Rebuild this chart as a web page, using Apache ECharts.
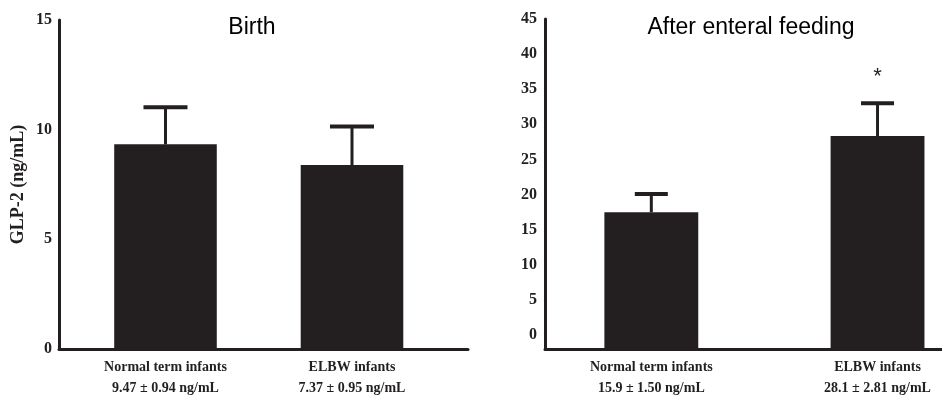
<!DOCTYPE html>
<html><head><meta charset="utf-8">
<script src="https://cdn.jsdelivr.net/npm/echarts@6/dist/echarts.min.js"></script>
<style>html,body{margin:0;padding:0;background:#fff}#c{width:942px;height:397px}</style>
</head><body><div id="c"></div>
<script>
// ---- data ----
const categories = ['Normal term infants', 'ELBW infants'];
const birthMean = [9.33, 8.39];
const birthSD = [1.69, 1.75];
const birthStats = ['9.47 ± 0.94 ng/mL', '7.37 ± 0.95 ng/mL'];
const feedMean = [17.47, 28.34];
const feedSD = [2.61, 4.66];
const feedStats = ['15.9 ± 1.50 ng/mL', '28.1 ± 2.81 ng/mL'];
const feedSig = ['', '*'];
const birthTicks = [0, 5, 10, 15];
const feedTicks = [0, 5, 10, 15, 20, 25, 30, 35, 40, 45];
const panelTitles = ['Birth', 'After enteral feeding'];
const yName = 'GLP-2 (ng/mL)';

const INK = '#231f20';
const SERIF = '"Liberation Serif", "Times New Roman", serif';
const SANS = '"Liberation Sans", Arial, sans-serif';

function rows(mean, sd, sig) {
  return mean.map((m, i) => [i, m, sd[i], sig ? sig[i] : '']);
}

function barRender(base, widthUnits) {
  return function (params, api) {
    const x = api.value(0), v = api.value(1);
    const p0 = api.coord([x - widthUnits / 2, v]);
    const p1 = api.coord([x + widthUnits / 2, base]);
    return { type: 'rect', shape: { x: p0[0], y: p0[1], width: p1[0] - p0[0], height: p1[1] - p0[1] },
             style: { fill: INK } };
  };
}

function errRender(capUnits, sigArr) {
  return function (params, api) {
    const x = api.value(0), v = api.value(1), e = api.value(2);
    const pb = api.coord([x, v]);
    const pt = api.coord([x, v + e]);
    const half = api.size([capUnits, 0])[0] / 2;
    const children = [
      { type: 'line', shape: { x1: pb[0], y1: pb[1], x2: pt[0], y2: pt[1] }, style: { stroke: INK, lineWidth: 3 } },
      { type: 'line', shape: { x1: pt[0] - half, y1: pt[1], x2: pt[0] + half, y2: pt[1] }, style: { stroke: INK, lineWidth: 4 } }
    ];
    const s = sigArr ? sigArr[params.dataIndex] : '';
    if (s) {
      children.push({ type: 'text', x: pt[0], y: pt[1] - 26,
        style: { text: s, fill: INK, font: '22px ' + SANS, align: 'center', verticalAlign: 'middle' } });
    }
    return { type: 'group', children: children };
  };
}

function xAxisCfg(grid, min, max, stats) {
  return {
    type: 'value', gridIndex: grid, min: min, max: max,
    splitLine: { show: false }, axisTick: { show: false },
    axisLine: { show: true, onZero: false, lineStyle: { color: INK, width: 3 } },
    axisLabel: {
      customValues: [0, 1], margin: 8,
      formatter: function (v) {
        const i = Math.round(v);
        return '{n|' + categories[i] + '}\n{s|' + stats[i] + '}';
      },
      rich: {
        n: { fontFamily: SERIF, fontWeight: 'bold', fontSize: 14, lineHeight: 21, color: INK },
        s: { fontFamily: SERIF, fontWeight: 'bold', fontSize: 14, lineHeight: 21, color: INK }
      }
    }
  };
}

function yAxisCfg(grid, min, max, ticks, margin, name) {
  const cfg = {
    type: 'value', gridIndex: grid, min: min, max: max,
    splitLine: { show: false }, axisTick: { show: false },
    axisLine: { show: true, onZero: false, lineStyle: { color: INK, width: 3 } },
    axisLabel: { customValues: ticks, margin: margin, fontFamily: SERIF, fontWeight: 'bold', fontSize: 16, color: INK }
  };
  if (name) {
    cfg.name = name;
    cfg.nameLocation = 'middle';
    cfg.nameGap = 32;
    cfg.nameTextStyle = { fontFamily: SERIF, fontWeight: 'bold', fontSize: 18, color: INK };
  }
  return cfg;
}

const chart = echarts.init(document.getElementById('c'));
chart.setOption({
  animation: false,
  backgroundColor: '#fff',
  title: [
    { text: panelTitles[0], left: 252, top: 16, textAlign: 'center', padding: 0,
      textStyle: { fontFamily: SANS, fontWeight: 'normal', fontSize: 23, color: '#000' } },
    { text: panelTitles[1], left: 751, top: 16, textAlign: 'center', padding: 0,
      textStyle: { fontFamily: SANS, fontWeight: 'normal', fontSize: 23, color: '#000' } }
  ],
  grid: [
    { left: 59, right: 474, top: 20, bottom: 48 },
    { left: 545, right: 0, top: 19, bottom: 48 }
  ],
  xAxis: [
    xAxisCfg(0, -0.571, 1.622, birthStats),
    xAxisCfg(1, -0.47, 1.285, feedStats)
  ],
  yAxis: [
    yAxisCfg(0, 0, 15, birthTicks, 7, yName),
    yAxisCfg(1, -2, 45, feedTicks, 8, null)
  ],
  series: [
    { type: 'custom', xAxisIndex: 0, yAxisIndex: 0, data: rows(birthMean, birthSD),
      encode: { x: 0, y: 1 }, renderItem: barRender(0, 0.55) },
    { type: 'custom', xAxisIndex: 0, yAxisIndex: 0, data: rows(birthMean, birthSD),
      encode: { x: 0, y: 1 }, renderItem: errRender(0.236, null) },
    { type: 'custom', xAxisIndex: 1, yAxisIndex: 1, data: rows(feedMean, feedSD, feedSig),
      encode: { x: 0, y: 1 }, renderItem: barRender(-2, 0.415) },
    { type: 'custom', xAxisIndex: 1, yAxisIndex: 1, data: rows(feedMean, feedSD, feedSig),
      encode: { x: 0, y: 1 }, renderItem: errRender(0.146, feedSig) }
  ]
});
</script>
</body></html>
